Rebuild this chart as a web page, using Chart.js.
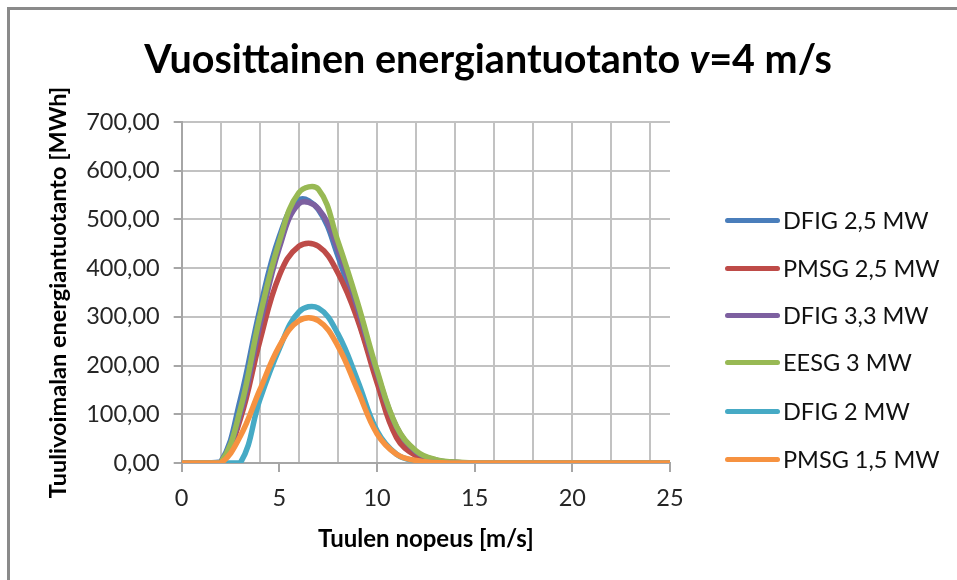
<!DOCTYPE html>
<html>
<head>
<meta charset="utf-8">
<script src="https://cdn.jsdelivr.net/npm/chart.js@4"></script>
<style>
  html, body { margin: 0; padding: 0; background: #fff; overflow: hidden; }
  #wrap { position: relative; width: 957px; height: 580px; overflow: hidden; }
  #frame { position: absolute; left: 7px; top: 7px; width: 990px; height: 620px;
           border-left: 3px solid #8a8a8a; border-top: 3px solid #8a8a8a; }
  #chart-box { position: absolute; left: 0; top: 0; width: 957px; height: 580px; }
  #title { position: absolute; left: 0; width: 976px; top: 38px; text-align: center;
           font: bold 39.5px Lato, sans-serif; line-height: 40px; color: #000; }
  #title i { font-style: italic; }
  #legend { position: absolute; left: 725px; top: 0; }
  .row { position: absolute; left: 0; height: 40px; display: flex; align-items: center;
         white-space: nowrap; font: 23.5px Lato, sans-serif; color: #111; }
  .swatch { width: 55px; height: 5px; border-radius: 3px; margin-right: 3px; }
</style>
</head>
<body>
<div id="wrap">
  <div id="frame"></div>
  <div id="chart-box"><canvas id="chart-energy"></canvas></div>
  <div id="title">Vuosittainen energiantuotanto <i>v</i>=4 m/s</div>
  <div id="legend"></div>
</div>
<script>
// wind speed bins [m/s]
const windSpeed = [0, 1, 2, 3, 4, 5, 6, 7, 8, 9, 10, 11, 12, 13, 14, 15, 16, 17, 18, 19, 20, 21, 22, 23, 24, 25];

// annual energy per bin [MWh]
const dfig25  = [0, 0, 2, 130, 315, 465, 540, 520, 425, 300, 175, 72, 22, 6, 1, 0, 0, 0, 0, 0, 0, 0, 0, 0, 0, 0];
const pmsg25  = [0, 0, 1, 90, 250, 385, 445, 445, 390, 295, 165, 52, 15, 4, 1, 0, 0, 0, 0, 0, 0, 0, 0, 0, 0, 0];
const dfig33  = [0, 0, 1, 100, 282, 442, 532, 522, 438, 318, 185, 74, 23, 6, 1, 0, 0, 0, 0, 0, 0, 0, 0, 0, 0, 0];
const eesg3   = [0, 0, 1, 110, 300, 455, 555, 562, 455, 330, 190, 75, 25, 7, 2, 0, 0, 0, 0, 0, 0, 0, 0, 0, 0, 0];
const dfig2   = [0, 0, 0, 0, 130, 235, 310, 318, 265, 170, 66, 18, 4, 1, 0, 0, 0, 0, 0, 0, 0, 0, 0, 0, 0, 0];
const pmsg15  = [0, 0, 0, 55, 150, 240, 292, 292, 240, 150, 60, 18, 5, 1, 0, 0, 0, 0, 0, 0, 0, 0, 0, 0, 0, 0];

const seriesNames  = ['DFIG 2,5 MW', 'PMSG 2,5 MW', 'DFIG 3,3 MW', 'EESG 3 MW', 'DFIG 2 MW', 'PMSG 1,5 MW'];
const seriesValues = [dfig25, pmsg25, dfig33, eesg3, dfig2, pmsg15];
const seriesColors = ['#4A7EBB', '#BE4B48', '#7D60A0', '#98B954', '#46AAC5', '#F69240'];

const yTicks = [0, 100, 200, 300, 400, 500, 600, 700];

const GRID = '#c2c2c2';
const AXIS = '#a6a6a6';
const TEXT = '#262626';

// later series on top, like Excel
const datasets = seriesNames.map((name, i) => ({
  label: name,
  data: seriesValues[i],
  borderColor: seriesColors[i],
  backgroundColor: seriesColors[i],
  borderWidth: 5.5,
  pointRadius: 0,
  tension: 0.4,
  order: seriesNames.length - i,
}));

new Chart(document.getElementById('chart-energy').getContext('2d'), {
  type: 'line',
  data: { labels: windSpeed, datasets },
  options: {
    responsive: true,
    maintainAspectRatio: false,
    animation: false,
    layout: { padding: { left: 31, right: 287, top: 122, bottom: 12 } },
    plugins: { legend: { display: false }, tooltip: { enabled: false } },
    scales: {
      x: {
        type: 'linear',
        min: 0,
        max: 25,
        border: { color: AXIS, width: 2 },
        grid: {
          color: c => (c.tick && c.tick.value % 2 === 0 && c.tick.value < 25) ? GRID : 'transparent',
          tickColor: c => (c.tick && c.tick.value % 5 === 0) ? AXIS : 'transparent',
          lineWidth: 2,
          tickLength: 9,
        },
        ticks: {
          stepSize: 1,
          autoSkip: false,
          maxRotation: 0,
          padding: 12,
          color: TEXT,
          font: { family: 'Lato', size: 23.5 },
          callback: v => (v % 5 === 0 ? String(v) : ''),
        },
        title: {
          display: true,
          text: 'Tuulen nopeus [m/s]',
          color: '#000',
          font: { family: 'Lato', size: 24, weight: 'bold' },
          padding: { top: 1, bottom: 14 },
        },
      },
      y: {
        min: 0,
        max: 700,
        border: { color: AXIS, width: 2 },
        grid: { color: GRID, tickColor: AXIS, lineWidth: 2, tickLength: 8 },
        afterBuildTicks: axis => { axis.ticks = yTicks.map(v => ({ value: v })); },
        ticks: {
          padding: 14,
          color: TEXT,
          font: { family: 'Lato', size: 23.5 },
          callback: v => Number(v).toFixed(2).replace('.', ','),
        },
        title: {
          display: true,
          text: 'Tuulivoimalan energiantuotanto [MWh]',
          color: '#000',
          font: { family: 'Lato', size: 23.5, weight: 'bold' },
          padding: { top: 13, bottom: 0 },
        },
      },
    },
  },
});

// legend beside the plot
const legend = document.getElementById('legend');
const rowTops = [200, 248, 295, 342, 391, 439];
seriesNames.forEach((name, i) => {
  const row = document.createElement('div');
  row.className = 'row';
  row.style.top = rowTops[i] + 'px';
  row.innerHTML = '<span class="swatch" style="background:' + seriesColors[i] + '"></span>' + name;
  legend.appendChild(row);
});
</script>
</body>
</html>
